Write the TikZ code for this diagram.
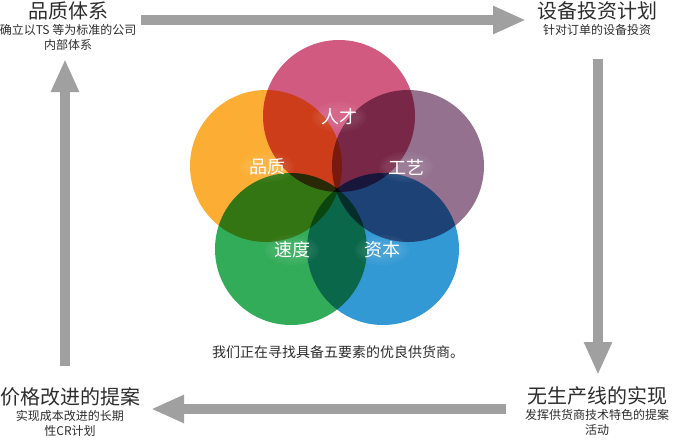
\documentclass[tikz,border=0pt]{standalone}
\usepackage{fontspec}
\setmainfont{Noto Sans CJK SC}
\usetikzlibrary{arrows.meta}
\definecolor{gflow}{RGB}{160,160,160}
\definecolor{ctext}{RGB}{45,45,45}
\definecolor{cpink}{HTML}{D15A80}
\definecolor{corange}{HTML}{FBAE33}
\definecolor{cpurple}{HTML}{93718F}
\definecolor{cgreen}{HTML}{33AC5A}
\definecolor{cblue}{HTML}{3399D4}

\begin{document}
\begin{tikzpicture}[
            x=1pt,y=-1pt,
            every node/.append style={inner sep=0pt,ctext},
            title/.style={font=\fontsize{20}{22}\selectfont},
            sub/.style={font=\fontsize{12}{14.5}\selectfont,align=center},
            petal/.style={font=\fontsize{18}{20}\selectfont,text=white},
            flow/.style={gflow,line width=10pt,-{Triangle[length=33pt,width=26pt]}}
        ]
            \useasboundingbox (0,0) rectangle (680,440);
            % the five circles
            \begin{scope}[blend group=multiply]
                \foreach \nm/\cx/\cy/\col in {talent/339/116/cpink,quality/266/166/corange,craft/408/166/cpurple,speed/291/249/cgreen,capital/383/249/cblue}
                    \fill [\col] (\cx,\cy) circle (76);
            \end{scope}
            % soft halo behind the labels
            \foreach \gx/\gy in {339/117,267/167,406/167,292/250,382/250}
                \foreach \r in {9,12,15}
                    \fill [white,opacity=0.035] (\gx,\gy) ellipse ({\r+12} and \r);
            \node [petal] (talent) at (339,117) {人才};
            \node [petal] (quality) at (267,167) {品质};
            \node [petal] (craft) at (406,167) {工艺};
            \node [petal] (speed) at (292,250) {速度};
            \node [petal] (capital) at (382,250) {资本};
            \node [font=\fontsize{14}{16}\selectfont] (goal) at (338,352) {我们正在寻找具备五要素的优良供货商。};
            % the four corners
            \node [title] (qsys) at (68,11) {品质体系};
            \node [sub,below=4pt] (qsyssub) at (qsys.south) {确立以TS 等为标准的公司\\内部体系};
            \node [title] (equip) at (597,11) {设备投资计划};
            \node [sub,below=4pt] (equipsub) at (equip.south) {针对订单的设备投资};
            \node [title] (noline) at (597,396) {无生产线的实现};
            \node [sub,below=4pt] (nolinesub) at (noline.south) {发挥供货商技术特色的提案\\活动};
            \node [title] (price) at (70,397) {价格改进的提案};
            \node [sub,below=4pt] (pricesub) at (price.south) {实现成本改进的长期\\性CR计划};
            % the arrows round the loop
            \coordinate (a1s) at (141,20);
            \coordinate (a1e) at (526,20);
            \coordinate (a2s) at (598,59);
            \coordinate (a2e) at (598,375);
            \coordinate (a3s) at (506,409);
            \coordinate (a3e) at (151,409);
            \coordinate (a4s) at (65,366);
            \coordinate (a4e) at (65,59);
            \draw [flow] (a1s) -- (a1e);
            \draw [flow] (a2s) -- (a2e);
            \draw [flow] (a3s) -- (a3e);
            \draw [flow] (a4s) -- (a4e);
        \end{tikzpicture}
\end{document}
